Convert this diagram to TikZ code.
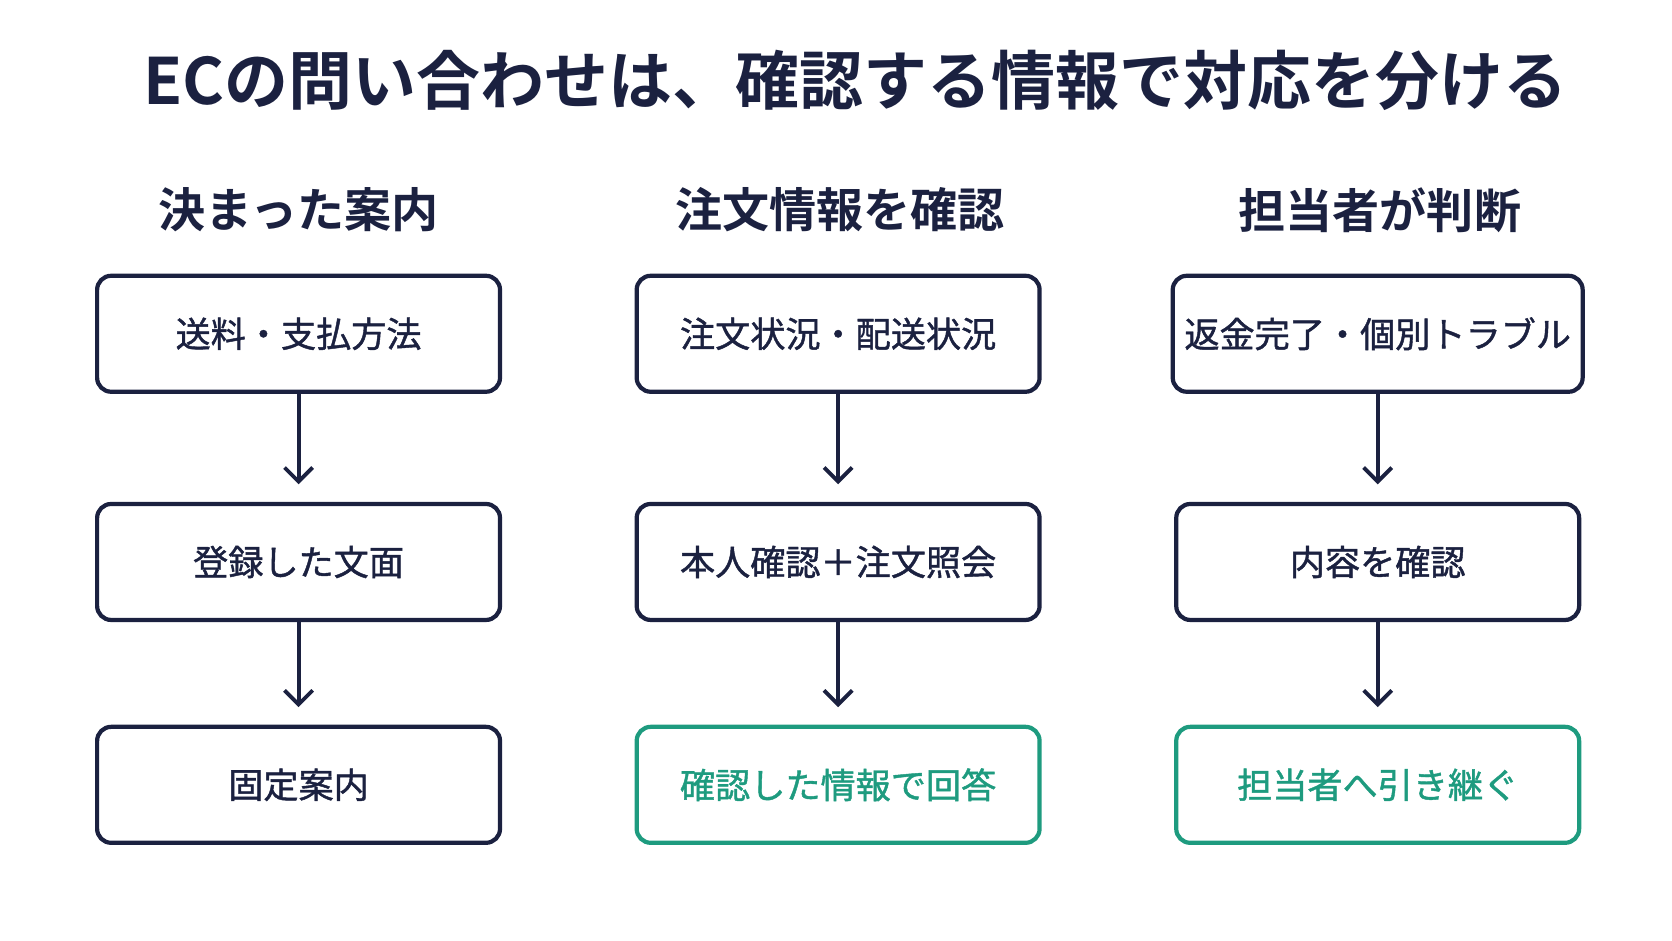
\documentclass[tikz,border=0pt]{standalone}
\usepackage{fontspec}
\newfontfamily\cjk[FakeBold=1.2]{Noto Sans CJK JP}
\newfontfamily\cjkb{Noto Sans CJK JP Bold}
\usetikzlibrary{arrows.meta}
\definecolor{navy}{HTML}{1B2140}
\definecolor{teal}{HTML}{1E9B7F}
\begin{document}
\begin{tikzpicture}
        [x=0.010664cm, y=-0.010664cm,
        box/.style={draw=navy, line width=1.2pt, rounded corners=4pt, minimum width=4.03cm, minimum height=1.16cm, font=\cjk\fontsize{10}{12}\selectfont, text=navy},
        goal/.style={box, draw=teal, text=teal},
        head/.style={font=\cjkb\fontsize{13.4}{16}\selectfont, text=navy},
        flow/.style={navy, line width=1.1pt, -{Straight Barb[length=4pt, width=8pt]}, shorten >=5pt}]

        \useasboundingbox (0, 0) rectangle (1568, 882);

        \node[font=\cjkb\fontsize{18.2}{22}\selectfont, text=navy] (title) at (802, 75) {ECの問い合わせは、確認する情報で対応を分ける};

        \node[head] (h1) at (280, 197) {決まった案内};
        \node[head] (h2) at (788, 197) {注文情報を確認};
        \node[head] (h3) at (1294, 197) {担当者が判断};

        \node[box] (a1) at (280, 313) {送料・支払方法};
        \node[box] (a2) at (280, 527) {登録した文面};
        \node[box] (a3) at (280, 736) {固定案内};

        \node[box] (b1) at (786, 313) {注文状況・配送状況};
        \node[box] (b2) at (786, 527) {本人確認＋注文照会};
        \node[goal] (b3) at (786, 736) {確認した情報で回答};

        \node[box] (c1) at (1292, 313) {返金完了・個別トラブル};
        \node[box] (c2) at (1292, 527) {内容を確認};
        \node[goal] (c3) at (1292, 736) {担当者へ引き継ぐ};

        % flows down each column
        \draw[flow] (a1) -- (a2);
        \draw[flow] (a2) -- (a3);
        \draw[flow] (b1) -- (b2);
        \draw[flow] (b2) -- (b3);
        \draw[flow] (c1) -- (c2);
        \draw[flow] (c2) -- (c3);

    \end{tikzpicture}
\end{document}
